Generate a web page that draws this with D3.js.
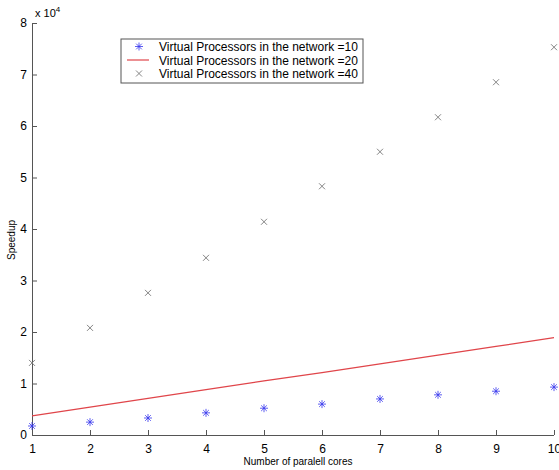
<!DOCTYPE html>
<html>
<head>
<meta charset="utf-8">
<script src="https://cdn.jsdelivr.net/npm/d3@7"></script>
<style>
  body { margin: 0; background: #fff; }
  svg { display: block; font-family: "Liberation Sans", Arial, sans-serif; }
  .axis path, .axis line { stroke: #555; }
  .axis text { font-size: 12px; fill: #000; }
</style>
</head>
<body>
<div id="container"></div>
<script>
// number of parallel cores
const cores = [1, 2, 3, 4, 5, 6, 7, 8, 9, 10]
// speedup, virtual processors = 10 (stars)
const vp10 = [1750, 2500, 3300, 4300, 5200, 6000, 7000, 7800, 8500, 9300]
// speedup, virtual processors = 20 (red line)
const vp20 = [3700, 5400, 7100, 8800, 10500, 12100, 13800, 15500, 17200, 18900]
// speedup, virtual processors = 40 (crosses)
const vp40 = [14000, 20800, 27600, 34400, 41400, 48300, 55000, 61700, 68500, 75300]
const yTicks = [0, 1, 2, 3, 4, 5, 6, 7, 8]
const legendLabels = [
  "Virtual Processors in the network =10",
  "Virtual Processors in the network =20",
  "Virtual Processors in the network =40"
]

const W = 559, H = 470
const margin = { left: 32, right: 5, top: 23, bottom: 35 }
const width = W - margin.left - margin.right
const height = H - margin.top - margin.bottom

const svg = d3.select("#container").append("svg")
  .attr("width", W).attr("height", H)

const g = svg.append("g")
  .attr("transform", `translate(${margin.left}, ${margin.top})`)

const x = d3.scaleLinear().domain([1, 10]).range([0, 522])
const y = d3.scaleLinear().domain([0, 80000]).range([height, 0])

// axes, ticks pointing inward
const xAxis = g.append("g").attr("class", "axis")
  .attr("transform", `translate(0, ${height})`)
  .call(d3.axisBottom(x).tickValues(cores).tickSize(-5).tickPadding(9).tickSizeOuter(0))
xAxis.select(".domain").attr("d", `M0,0.5H${width}`)

const yAxis = g.append("g").attr("class", "axis")
  .call(d3.axisLeft(y).tickValues(yTicks.map(d => d * 10000)).tickFormat(d => d / 10000)
    .tickSize(-5).tickPadding(5).tickSizeOuter(0))

// exponent label
const expo = g.append("text").attr("x", 3).attr("y", -6)
  .style("font-size", "11px")
expo.append("tspan").text("x 10")
expo.append("tspan").attr("dy", -5).style("font-size", "8px").text("4")

// axis titles
svg.append("text")
  .attr("x", margin.left + width / 2 + 5).attr("y", 465)
  .attr("text-anchor", "middle").style("font-size", "10px")
  .text("Number of paralell cores")
svg.append("text")
  .attr("transform", `translate(15, ${margin.top + height / 2 + 11}) rotate(-90)`)
  .attr("text-anchor", "middle").style("font-size", "10px")
  .text("Speedup")

// star marker path
function star(s) {
  let p = ""
  for (let a = 0; a < 4; a++) {
    const ang = a * Math.PI / 4
    const dx = Math.cos(ang) * s, dy = Math.sin(ang) * s
    p += `M${-dx},${-dy}L${dx},${dy}`
  }
  return p
}
function cross(s) {
  return `M${-s},${-s}L${s},${s}M${-s},${s}L${s},${-s}`
}

// red line
const line = d3.line().x((d, i) => x(cores[i])).y(d => y(d))
g.append("path").datum(vp20)
  .attr("fill", "none").attr("stroke", "#e0454a").attr("stroke-width", 1.2)
  .attr("d", line)

g.selectAll(".star").data(vp10).enter().append("path")
  .attr("class", "star")
  .attr("transform", (d, i) => `translate(${x(cores[i])}, ${y(d)})`)
  .attr("d", star(4)).attr("stroke", "#3535ee").attr("stroke-width", 0.8)

g.selectAll(".cross").data(vp40).enter().append("path")
  .attr("class", "cross")
  .attr("transform", (d, i) => `translate(${x(cores[i])}, ${y(d)})`)
  .attr("d", cross(3)).attr("stroke", "#777").attr("stroke-width", 0.9)

// legend
const lg = svg.append("g").attr("transform", "translate(121, 39)")
lg.append("rect").attr("width", 242).attr("height", 44)
  .attr("fill", "#fff").attr("stroke", "#555").attr("stroke-width", 1)
const rows = lg.selectAll(".legend").data(legendLabels).enter().append("g")
  .attr("class", "legend")
  .attr("transform", (d, i) => `translate(0, ${7.5 + i * 13.5})`)
rows.append("text").attr("x", 38).attr("y", 4.5)
  .style("font-size", "12px").text(d => d)
rows.filter((d, i) => i === 0).append("path")
  .attr("transform", "translate(18, 0)").attr("d", star(4))
  .attr("stroke", "#3535ee").attr("stroke-width", 0.8)
rows.filter((d, i) => i === 1).append("line")
  .attr("x1", 6).attr("x2", 28).attr("stroke", "#e0454a").attr("stroke-width", 1.2)
rows.filter((d, i) => i === 2).append("path")
  .attr("transform", "translate(18, 0)").attr("d", cross(3))
  .attr("stroke", "#777").attr("stroke-width", 0.9)
</script>
</body>
</html>
